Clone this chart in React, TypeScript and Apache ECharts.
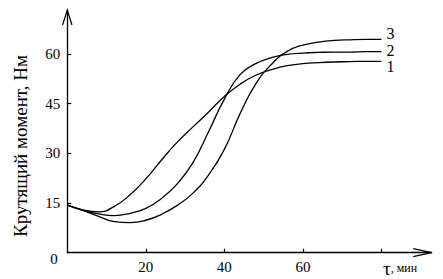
import React, { useEffect, useRef } from "react";
import * as echarts from "echarts";

// Time, minutes (shared grid)
const time = [0, 4, 8, 12, 16, 20, 24, 28, 32, 36, 40, 44, 48, 52, 56, 60, 64, 68, 72, 76, 80];
// Curve 1 (lowest plateau)
const torque1 = [14.4, 12.9, 12.3, 14.0, 17.5, 22.3, 28.0, 33.4, 38.0, 42.5, 47.2, 50.9, 53.6, 55.3, 56.5, 57.1, 57.4, 57.6, 57.7, 57.8, 57.8];
// Curve 2 (middle plateau)
const torque2 = [14.4, 12.8, 11.7, 11.2, 11.9, 13.4, 16.4, 20.8, 27.2, 36.6, 46.4, 53.8, 57.1, 58.9, 59.9, 60.3, 60.5, 60.6, 60.6, 60.7, 60.7];
// Curve 3 (highest plateau)
const torque3 = [14.4, 12.8, 11.0, 9.4, 9.1, 9.8, 11.6, 14.3, 18.0, 23.5, 31.2, 42.0, 51.0, 56.9, 60.8, 62.7, 63.6, 64.1, 64.3, 64.4, 64.4];

const curveNames = ["1", "2", "3"];
const xTickValues = [20, 40, 60, 80];
const xLabelValues = [20, 40, 60];
const yTickValues = [15, 30, 45, 60];
const yTitle = "Крутящий момент, Нм";
const originLabel = "0";

const W = 443;
const H = 279;
const LEFT = 67.3;
const TOP = 10;
const RIGHT_X = 431.7;
const BOTTOM_Y = 252.7;
const FONT = "'Liberation Serif', 'Times New Roman', serif";

function pairs(t: number[], v: number[]) {
  return t.map((x, i) => [x, v[i]]);
}

export default function App() {
  const ref = useRef<HTMLDivElement>(null);
  useEffect(() => {
    if (!ref.current) return;
    const chart = echarts.init(ref.current, undefined, { renderer: "svg" });
    const lineStyle = { color: "#000", width: 1.3 };
    const offsets = [[0, 5], [0, -1.5], [0, -6]];
    const datasets = [pairs(time, torque1), pairs(time, torque2), pairs(time, torque3)];
    chart.setOption({
      animation: false,
      backgroundColor: "#fff",
      grid: {
        left: LEFT,
        top: TOP,
        right: W - RIGHT_X,
        bottom: H - BOTTOM_Y,
        containLabel: false,
        outerBoundsMode: "none",
      },
      xAxis: {
        type: "value",
        min: 0,
        max: 92.8,
        interval: 20,
        splitLine: { show: false },
        axisLine: { lineStyle: { color: "#000", width: 1.3 } },
        axisTick: {
          inside: true,
          length: 4,
          customValues: xTickValues,
          lineStyle: { color: "#000", width: 1.2 },
        },
        axisLabel: {
          customValues: xLabelValues,
          color: "#000",
          fontFamily: FONT,
          fontSize: 15,
          margin: 7,
        },
      },
      yAxis: {
        type: "value",
        min: 0,
        max: 73.3,
        interval: 15,
        splitLine: { show: false },
        axisLine: { lineStyle: { color: "#000", width: 1.3 } },
        axisTick: {
          inside: true,
          length: 4,
          customValues: yTickValues,
          lineStyle: { color: "#000", width: 1.2 },
        },
        axisLabel: {
          customValues: yTickValues,
          color: "#000",
          fontFamily: FONT,
          fontSize: 15,
          margin: 7,
        },
      },
      series: datasets.map((d, i) => ({
        type: "line",
        name: curveNames[i],
        data: d,
        smooth: 0.5,
        showSymbol: false,
        lineStyle,
        endLabel: {
          show: true,
          formatter: curveNames[i],
          color: "#000",
          fontFamily: FONT,
          fontSize: 16,
          lineHeight: 12,
          distance: 5,
          offset: offsets[i],
        },
        z: 3,
      })),
      graphic: [
        {
          type: "polyline",
          shape: { points: [[RIGHT_X - 18.5, BOTTOM_Y - 4], [RIGHT_X, BOTTOM_Y], [RIGHT_X - 18.5, BOTTOM_Y + 4]] },
          style: { stroke: "#000", lineWidth: 1.2, fill: "none" },
        },
        {
          type: "polyline",
          shape: { points: [[LEFT - 4.7, TOP + 15], [LEFT, TOP], [LEFT + 4.7, TOP + 15]] },
          style: { stroke: "#000", lineWidth: 1.2, fill: "none" },
        },
        {
          type: "text",
          x: 383,
          y: 268,
          style: {
            text: "{t|τ}{m|, мин}",
            rich: {
              t: { fontFamily: FONT, fontSize: 19, fill: "#000" },
              m: { fontFamily: FONT, fontSize: 12, fill: "#000" },
            },
            textVerticalAlign: "middle",
            fill: "#000",
          },
        },
        {
          type: "text",
          x: 54,
          y: 259,
          style: {
            text: originLabel,
            fontFamily: FONT,
            fontSize: 15,
            fill: "#000",
            textAlign: "center",
            textVerticalAlign: "middle",
          },
        },
        {
          type: "text",
          x: 20,
          y: 146,
          rotation: Math.PI / 2,
          style: {
            text: yTitle,
            fontFamily: FONT,
            fontSize: 19,
            fill: "#000",
            textAlign: "center",
            textVerticalAlign: "middle",
          },
        },
      ],
    });
    return () => chart.dispose();
  }, []);
  return (
    <div
      ref={ref}
      style={{ position: "fixed", left: 0, top: 0, width: W, height: H, background: "#fff" }}
    />
  );
}
